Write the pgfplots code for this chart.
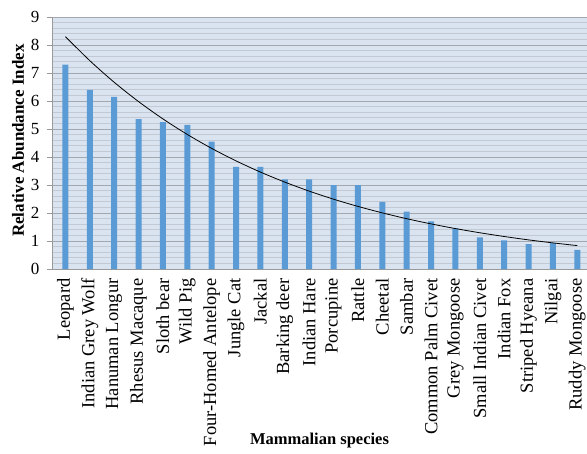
\documentclass[border=0pt]{standalone}
\usepackage{fontspec}
\setmainfont{Liberation Serif}
\usepackage{pgfplots}
\pgfplotsset{compat=1.18}
\definecolor{barblue}{HTML}{5B9BD5}
\definecolor{plotbg}{HTML}{DAE4F1}
\definecolor{majgrid}{HTML}{A3A7AE}
\definecolor{mingrid}{HTML}{C3C9D2}
\definecolor{axgray}{HTML}{9A9A9A}
\begin{document}
\begin{tikzpicture}
\useasboundingbox (0,0) rectangle (587pt,453pt);
\begin{axis}[
  at={(52pt,184pt)}, anchor=south west,
  scale only axis, width=535pt, height=252pt,
  xmin=-0.55, xmax=21.4, ymin=0, ymax=9,
  axis background/.style={fill=plotbg},
  axis x line*=bottom, axis y line*=left,
  axis line style={axgray, line width=0.8pt},
  xtick={0,...,21},
  xticklabels={Leopard,Indian Grey Wolf,Hanuman Longur,Rhesus Macaque,Sloth bear,Wild Pig,Four-Homed Antelope,Jungle Cat,Jackal,Barking deer,Indian Hare,Porcupine,Rattle,Cheetal,Sambar,Common Palm Civet,Grey Mongoose,Small Indian Civet,Indian Fox,Striped Hyeana,Nilgai,Ruddy Mongoose},
  x tick label style={rotate=90, anchor=east, xshift=-1pt, font=\fontsize{18.5}{20}\selectfont},
  y tick label style={font=\fontsize{17}{20}\selectfont},
  major x tick style={draw=none},
  ytick={0,...,9},
  minor y tick num=4,
  yticklabel style={xshift=-4pt},
  /pgf/number format/assume math mode=true,
  tick align=outside,
  major tick length=5pt,
  minor tick length=0pt,
  y tick style={axgray, line width=0.8pt},
  ymajorgrids, yminorgrids,
  major grid style={majgrid, line width=0.8pt},
  minor grid style={mingrid, line width=0.8pt},
  ylabel={\textbf{Relative Abundance Index}},
  ylabel style={at={(axis description cs:-0.0636,0.51)}, anchor=center, font=\fontsize{17}{20}\selectfont},
  xlabel={\textbf{Mammalian species}},
  xlabel style={at={(axis description cs:0.5,-0.68)}, anchor=center, font=\fontsize{16.5}{18}\selectfont},
  clip=false,
]
\addplot[ybar, bar width=6pt, fill=barblue, draw=none] coordinates {
 (0,7.3) (1,6.4) (2,6.15) (3,5.35) (4,5.25) (5,5.15) (6,4.55) (7,3.65) (8,3.65) (9,3.2) (10,3.2)
 (11,3.0) (12,3.0) (13,2.4) (14,2.05) (15,1.7) (16,1.45) (17,1.13) (18,1.02) (19,0.89) (20,0.92) (21,0.68)
};
\addplot[black, line width=0.8pt, smooth, no markers] coordinates {
 (0,8.30) (1,7.441) (2,6.670) (3,5.980) (4,5.361) (5,4.806) (6,4.308) (7,3.862) (8,3.462) (9,3.104) (10,2.782)
 (11,2.494) (12,2.236) (13,2.005) (14,1.797) (15,1.611) (16,1.444) (17,1.295) (18,1.161) (19,1.040) (20,0.933) (21,0.836)
};
\end{axis}
\end{tikzpicture}
\end{document}
